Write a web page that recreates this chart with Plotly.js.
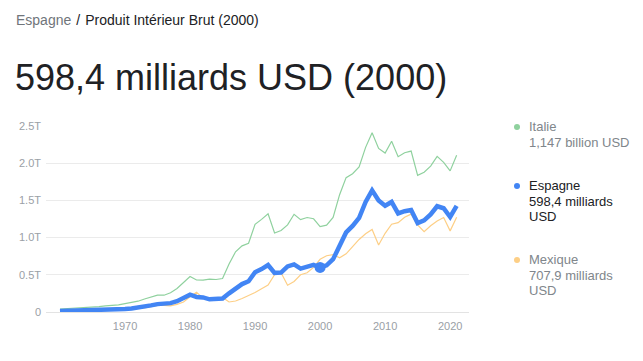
<!DOCTYPE html>
<html>
<head>
<meta charset="utf-8">
<script src="https://cdn.plot.ly/plotly-3.0.1.min.js"></script>
<style>
  html, body { margin: 0; padding: 0; background: #fff; }
  body { width: 643px; height: 361px; position: relative; overflow: hidden;
         font-family: "Liberation Sans", Arial, sans-serif; }
  #chart { position: absolute; left: 0; top: 0; width: 643px; height: 361px; }
  .crumb { position: absolute; left: 16px; top: 12px; font-size: 14px; color: #202124; white-space: nowrap; }
  .crumb .root { color: #70757a; }
  .crumb .sep { color: #202124; margin: 0 5px; }
  .headline { position: absolute; left: 15px; top: 57px; font-size: 36px; color: #202124; white-space: nowrap; line-height: 42px; }
  .leg { position: absolute; left: 529px; font-size: 13px; line-height: 15.5px; color: #80868b; white-space: nowrap; }
  .leg.active { color: #202124; }
  .dot { position: absolute; width: 6px; height: 6px; border-radius: 50%; left: -15px; top: 5px; }
</style>
</head>
<body>
<div id="chart"></div>
<div class="crumb"><span class="root">Espagne</span><span class="sep">/</span>Produit Intérieur Brut (2000)</div>
<div class="headline" id="headline"></div>
<div id="legend"></div>
<script>
// GDP in current USD, billions, 1960-2021
const years = [];
for (let y = 1960; y <= 2021; y++) years.push(y);

const italie = [40.4, 44.8, 50.4, 57.7, 63.2, 67.9, 73.0, 81.1, 87.9, 97.1,
  113.0, 124.0, 145.0, 175.0, 200.0, 227.0, 226.0, 258.0, 316.0, 394.0,
  478.0, 430.0, 428.0, 442.0, 437.0, 450.0, 645.0, 809.0, 889.0, 925.0,
  1178.0, 1245.0, 1319.0, 1062.0, 1096.0, 1171.0, 1313.0, 1242.0, 1270.0, 1253.0,
  1147.0, 1168.0, 1272.0, 1577.0, 1806.0, 1858.0, 1949.0, 2213.0, 2408.0, 2199.0,
  2137.0, 2294.0, 2088.0, 2141.0, 2163.0, 1837.0, 1878.0, 1961.0, 2092.0, 2011.0,
  1897.0, 2108.0];

const espagne = [12.1, 13.8, 16.1, 19.4, 21.6, 24.8, 28.7, 31.7, 31.5, 35.6,
  41.0, 46.6, 56.5, 72.1, 88.9, 106.0, 107.2, 119.3, 144.4, 196.0,
  232.0, 202.3, 195.5, 170.2, 171.7, 180.3, 251.0, 317.0, 375.6, 413.2,
  535.1, 576.2, 630.9, 526.1, 529.1, 612.9, 640.3, 583.8, 615.1, 634.2,
  598.4, 627.9, 708.9, 907.3, 1069.6, 1157.3, 1264.6, 1479.3, 1635.9, 1499.1,
  1427.6, 1479.0, 1324.8, 1355.1, 1371.8, 1195.1, 1232.1, 1312.5, 1421.7, 1394.3,
  1276.9, 1427.4];

const mexique = [13.0, 14.2, 15.2, 17.0, 20.1, 21.8, 24.4, 26.6, 29.4, 32.5,
  35.5, 39.2, 45.2, 55.3, 72.0, 88.0, 89.0, 81.6, 102.3, 134.5,
  205.1, 263.9, 184.6, 156.2, 184.3, 195.2, 134.6, 147.5, 181.6, 221.4,
  261.3, 313.1, 363.2, 500.7, 527.3, 360.1, 410.9, 500.4, 526.5, 600.2,
  707.9, 756.7, 772.1, 729.3, 782.2, 877.5, 975.4, 1052.7, 1109.9, 900.0,
  1057.8, 1180.5, 1201.1, 1274.4, 1315.4, 1171.9, 1078.5, 1158.9, 1222.4, 1269.0,
  1090.5, 1272.8];

const yTickVals = [0, 500, 1000, 1500, 2000, 2500];
const yTickText = ["0", "0.5T", "1.0T", "1.5T", "2.0T", "2.5T"];
const xTickVals = [1970, 1980, 1990, 2000, 2010, 2020];

const selectedYear = 2000;

const seriesNames = ["Italie", "Espagne", "Mexique"];
const seriesLabels = ["1,147 billion USD", "598,4 milliards<br>USD", "707,9 milliards<br>USD"];
const seriesColors = ["#8fd19e", "#4285f4", "#fdcf86"];

const idx = years.indexOf(selectedYear);

document.getElementById("headline").textContent = "598,4 milliards USD (2000)";

// Legend on the right
const legTops = [119, 178, 252];
const legend = document.getElementById("legend");
seriesNames.forEach((name, i) => {
  const d = document.createElement("div");
  d.className = "leg" + (i === 1 ? " active" : "");
  d.style.top = legTops[i] + "px";
  d.innerHTML = '<span class="dot" style="background:' + seriesColors[i] + '"></span>' +
                name + "<br>" + seriesLabels[i];
  legend.appendChild(d);
});

const traces = [
  { x: years, y: italie, type: "scatter", mode: "lines",
    line: { color: seriesColors[0], width: 1.2 }, hoverinfo: "skip" },
  { x: years, y: mexique, type: "scatter", mode: "lines",
    line: { color: seriesColors[2], width: 1.2 }, hoverinfo: "skip" },
  { x: years, y: espagne, type: "scatter", mode: "lines",
    line: { color: seriesColors[1], width: 4.5 }, hoverinfo: "skip" },
  { x: [years[idx]], y: [espagne[idx]], type: "scatter", mode: "markers",
    marker: { color: seriesColors[1], size: 11 }, hoverinfo: "skip" }
];

const layout = {
  width: 643, height: 361,
  margin: { l: 46, r: 174, t: 126, b: 49, pad: 0 },
  paper_bgcolor: "rgba(0,0,0,0)", plot_bgcolor: "rgba(0,0,0,0)",
  showlegend: false,
  font: { family: "Liberation Sans, Arial, sans-serif", size: 11, color: "#9aa0a6" },
  xaxis: {
    range: [1957.85, 2022.9], tickvals: xTickVals, showgrid: false, zeroline: false,
    showline: false, ticks: "", tickfont: { size: 11, color: "#9aa0a6" }, ticklabelstandoff: 6
  },
  yaxis: {
    range: [0, 2500], tickvals: yTickVals, ticktext: yTickText,
    showgrid: true, gridcolor: "#ebebeb", gridwidth: 1,
    zeroline: true, zerolinecolor: "#e3e3e3", zerolinewidth: 1,
    showline: false, ticks: "", tickfont: { size: 11, color: "#9aa0a6" }, ticklabelstandoff: 4
  }
};

Plotly.newPlot("chart", traces, layout, { staticPlot: true, displayModeBar: false });
</script>
</body>
</html>
